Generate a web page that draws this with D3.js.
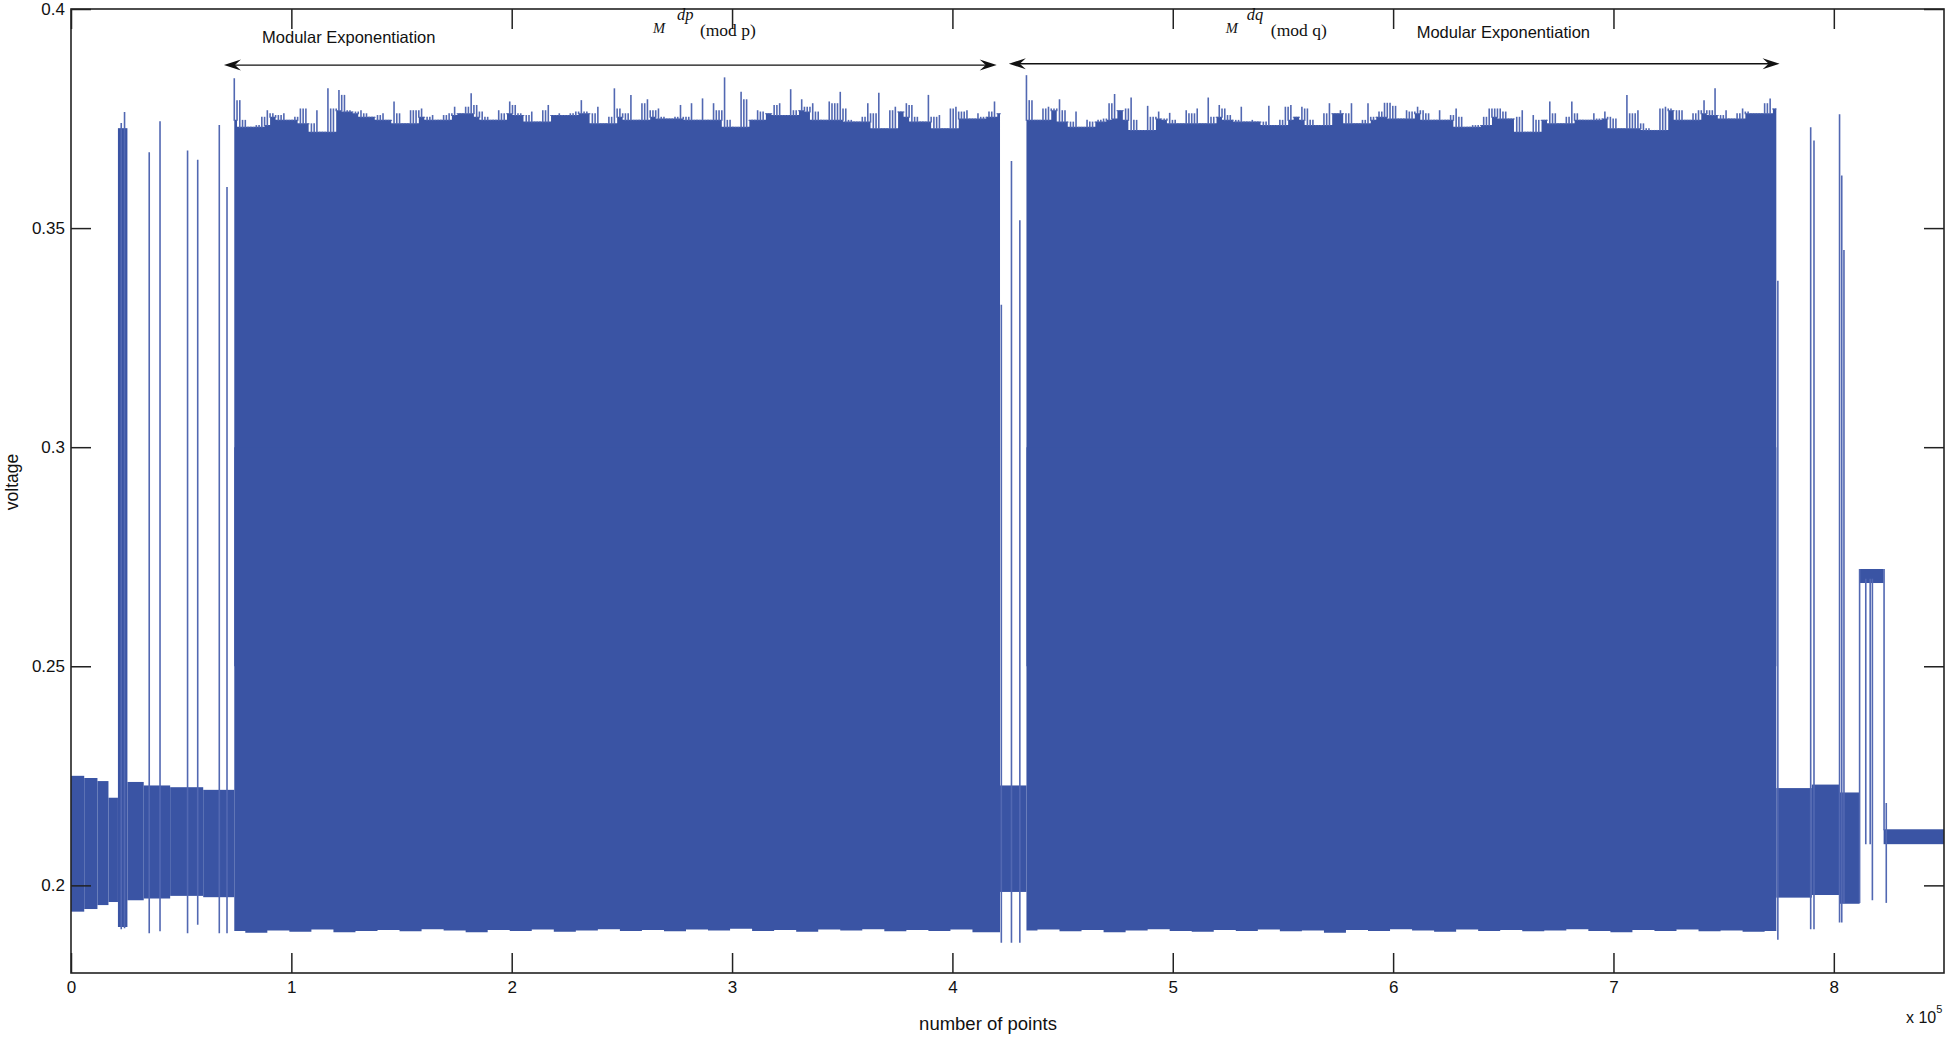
<!DOCTYPE html>
<html>
<head>
<meta charset="utf-8">
<script src="https://cdn.jsdelivr.net/npm/d3@7"></script>
<style>
	body { margin: 0; background: #fff; }
	text { font-family: "Liberation Sans", Arial, sans-serif; fill: #111; }
	.serif { font-family: "Liberation Serif", "Times New Roman", serif; }
</style>
</head>
<body>
<svg id="chart" width="1949" height="1038"></svg>
<script>
// x is in units of 1e5 points, y in volts
const xTicks = [0, 1, 2, 3, 4, 5, 6, 7, 8]
const yTicks = [0.2, 0.25, 0.3, 0.35, 0.4]

// quiet stretches of the trace: [start, end, top, bottom]
const bands = [
	[0, 0.06, 0.2250, 0.1940],
	[0.06, 0.12, 0.2245, 0.1946],
	[0.12, 0.17, 0.2238, 0.1955],
	[0.17, 0.213, 0.2200, 0.1962],
	[0.213, 0.256, 0.3728, 0.1905],
	[0.256, 0.33, 0.2236, 0.1966],
	[0.33, 0.45, 0.2228, 0.1970],
	[0.45, 0.6, 0.2224, 0.1976],
	[0.6, 0.741, 0.2218, 0.1973],
	[4.216, 4.336, 0.2228, 0.1985],
	[7.739, 7.9, 0.2222, 0.1972],
	[7.9, 8.026, 0.2230, 0.1978],
	[8.026, 8.117, 0.2212, 0.1958],
	[8.117, 8.226, 0.2722, 0.2690],
	[8.226, 8.5, 0.2128, 0.2094],
]

// the two exponentiation bursts, upper envelope sampled every 2500 points
const sampleStep = 0.025
const bottomStep = 0.1
const block1Start = 0.741, block1End = 4.216
const block2Start = 4.336, block2End = 7.739

const block1Top = [
	0.3842, 0.3792, 0.3747, 0.3731, 0.3735, 0.3754, 0.3769, 0.3762, 0.3758, 0.3762,
	0.3747, 0.3754, 0.3773, 0.3773, 0.3739, 0.3769, 0.3720, 0.3819, 0.3773, 0.3815,
	0.3804, 0.3769, 0.3766, 0.3769, 0.3762, 0.3754, 0.3758, 0.3762, 0.3747, 0.3789,
	0.3762, 0.3739, 0.3769, 0.3769, 0.3773, 0.3754, 0.3758, 0.3747, 0.3758, 0.3762,
	0.3777, 0.3762, 0.3777, 0.3808, 0.3781, 0.3766, 0.3754, 0.3747, 0.3769, 0.3762,
	0.3789, 0.3781, 0.3762, 0.3758, 0.3766, 0.3743, 0.3769, 0.3781, 0.3758, 0.3762,
	0.3758, 0.3762, 0.3766, 0.3792, 0.3766, 0.3762, 0.3777, 0.3739, 0.3754, 0.3819,
	0.3773, 0.3762, 0.3804, 0.3747, 0.3785, 0.3794, 0.3769, 0.3773, 0.3754, 0.3750,
	0.3754, 0.3781, 0.3754, 0.3785, 0.3747, 0.3796, 0.3747, 0.3785, 0.3769, 0.3844,
	0.3747, 0.3731, 0.3811, 0.3794, 0.3747, 0.3769, 0.3766, 0.3762, 0.3781, 0.3785,
	0.3758, 0.3817, 0.3769, 0.3794, 0.3777, 0.3785, 0.3766, 0.3747, 0.3789, 0.3785,
	0.3811, 0.3773, 0.3747, 0.3743, 0.3754, 0.3785, 0.3762, 0.3809, 0.3728, 0.3769,
	0.3777, 0.3766, 0.3785, 0.3781, 0.3754, 0.3743, 0.3804, 0.3754, 0.3758, 0.3728,
	0.3773, 0.3777, 0.3766, 0.3769, 0.3750, 0.3762, 0.3754, 0.3766, 0.3789, 0.3762,
]
const block1Bottom = [
	0.1896, 0.1892, 0.1897, 0.1894, 0.1899, 0.1893, 0.1896, 0.1898, 0.1895, 0.1900,
	0.1897, 0.1893, 0.1898, 0.1896, 0.1899, 0.1894, 0.1897, 0.1900, 0.1896, 0.1898,
	0.1895, 0.1899, 0.1897, 0.1901, 0.1896, 0.1898, 0.1894, 0.1899, 0.1897, 0.1900,
	0.1895, 0.1898, 0.1896, 0.1899, 0.1893,
]
const block2Top = [
	0.3849, 0.3792, 0.3747, 0.3773, 0.3777, 0.3773, 0.3794, 0.3769, 0.3743, 0.3766,
	0.3731, 0.3747, 0.3743, 0.3747, 0.3750, 0.3785, 0.3806, 0.3769, 0.3773, 0.3798,
	0.3747, 0.3724, 0.3779, 0.3754, 0.3766, 0.3750, 0.3763, 0.3747, 0.3739, 0.3769,
	0.3762, 0.3773, 0.3739, 0.3798, 0.3754, 0.3781, 0.3773, 0.3758, 0.3747, 0.3777,
	0.3743, 0.3747, 0.3743, 0.3743, 0.3779, 0.3735, 0.3747, 0.3777, 0.3781, 0.3754,
	0.3777, 0.3773, 0.3747, 0.3735, 0.3762, 0.3785, 0.3762, 0.3769, 0.3762, 0.3785,
	0.3739, 0.3747, 0.3785, 0.3754, 0.3766, 0.3786, 0.3786, 0.3779, 0.3750, 0.3769,
	0.3766, 0.3777, 0.3769, 0.3762, 0.3747, 0.3769, 0.3747, 0.3758, 0.3773, 0.3754,
	0.3731, 0.3735, 0.3735, 0.3754, 0.3773, 0.3773, 0.3773, 0.3766, 0.3750, 0.3754,
	0.3769, 0.3720, 0.3758, 0.3747, 0.3747, 0.3789, 0.3762, 0.3739, 0.3754, 0.3789,
	0.3762, 0.3747, 0.3747, 0.3762, 0.3750, 0.3766, 0.3754, 0.3750, 0.3728, 0.3804,
	0.3762, 0.3769, 0.3739, 0.3728, 0.3724, 0.3773, 0.3777, 0.3773, 0.3769, 0.3769,
	0.3747, 0.3762, 0.3769, 0.3792, 0.3769, 0.3819, 0.3758, 0.3769, 0.3750, 0.3762,
	0.3773, 0.3766, 0.3762, 0.3762, 0.3785, 0.3796, 0.3773,
]
const block2Bottom = [
	0.1897, 0.1899, 0.1895, 0.1898, 0.1893, 0.1897, 0.1900, 0.1896, 0.1894, 0.1898,
	0.1896, 0.1899, 0.1895, 0.1897, 0.1892, 0.1898, 0.1896, 0.1900, 0.1897, 0.1894,
	0.1899, 0.1896, 0.1898, 0.1895, 0.1897, 0.1900, 0.1896, 0.1893, 0.1898, 0.1896,
	0.1899, 0.1895, 0.1897, 0.1894, 0.1896,
]

// isolated pulses: [x, top, bottom]
const spikes = [
	[0.228, 0.3740, 0.1900], [0.243, 0.3765, 0.1902],
	[0.355, 0.3673, 0.1891], [0.404, 0.3744, 0.1895],
	[0.529, 0.3677, 0.1891], [0.575, 0.3656, 0.1910],
	[0.673, 0.3735, 0.1891], [0.708, 0.3594, 0.1891],
	[4.222, 0.3325, 0.1869], [4.268, 0.3653, 0.1869], [4.306, 0.3518, 0.1869],
	[7.746, 0.3380, 0.1876], [7.895, 0.3730, 0.1900], [7.910, 0.3700, 0.1900],
	[8.026, 0.3760, 0.1915], [8.036, 0.3620, 0.1915], [8.046, 0.3450, 0.1960],
	[8.117, 0.2722, 0.1960], [8.145, 0.2700, 0.2094], [8.165, 0.2700, 0.2094],
	[8.175, 0.2700, 0.1966], [8.228, 0.2722, 0.2126], [8.238, 0.2188, 0.1960],
]

// double-headed arrows: [from, to, level]
const arrows = [
	[0.694, 4.201, 0.3872],
	[4.256, 7.754, 0.3875],
]

const traceColour = "#3a54a4"
const spikeColour = "#5268b2"

const svg = d3.select("#chart")
const xs = d3.scaleLinear().domain([0, 8.5]).range([71, 1944])
const ys = d3.scaleLinear().domain([0.18, 0.4]).range([973, 9])

svg.append("defs").append("clipPath")
	.attr("id", "plotClip")
	.append("rect")
	.attr("x", xs(0)).attr("y", ys(0.4))
	.attr("width", xs(8.5) - xs(0)).attr("height", ys(0.18) - ys(0.4))

const plot = svg.append("g").attr("clip-path", "url(#plotClip)")

// Quiet bands
plot.selectAll("rect.band")
	.data(bands)
	.join("rect")
	.attr("class", "band")
	.attr("x", d => xs(d[0]))
	.attr("width", d => xs(d[1]) - xs(d[0]))
	.attr("y", d => ys(d[2]))
	.attr("height", d => ys(d[3]) - ys(d[2]))
	.attr("fill", traceColour)

function drawBlock(start, end, tops, bottoms) {
	// solid body reaches the lowest envelope value nearby, peaks drawn as thin lines
	let pts = tops.map((v, i) => ({
		x: start + i * sampleStep,
		v: v,
		body: d3.min(tops.slice(Math.max(0, i - 2), i + 3)),
	}))
	let edges = [{ x: start, body: pts[0].body }, ...pts, { x: end, body: pts[pts.length - 1].body }]

	plot.append("path")
		.datum(edges)
		.attr("fill", traceColour)
		.attr("d", d3.area()
			.curve(d3.curveStep)
			.x(d => xs(d.x))
			.y0(ys(0.25))
			.y1(d => ys(d.body)))

	let bpts = bottoms.map((v, i) => ({ x: start + i * bottomStep, v: v }))
	bpts = [{ x: start, v: bottoms[0] }, ...bpts, { x: end, v: bottoms[bottoms.length - 1] }]
	plot.append("path")
		.datum(bpts)
		.attr("fill", traceColour)
		.attr("d", d3.area()
			.curve(d3.curveStep)
			.x(d => xs(d.x))
			.y0(ys(0.3))
			.y1(d => ys(d.v)))

	// in-between peaks reach the lower of the two neighbouring samples
	let mids = pts.slice(1).map((p, i) => ({
		x: (p.x + pts[i].x) / 2,
		v: Math.min(p.v, pts[i].v),
		body: Math.max(p.body, pts[i].body),
	}))

	plot.append("g")
		.selectAll("line")
		.data(pts.concat(mids))
		.join("line")
		.attr("x1", d => xs(d.x)).attr("x2", d => xs(d.x))
		.attr("y1", d => ys(d.body) + 1).attr("y2", d => ys(d.v))
		.attr("stroke", spikeColour)
		.attr("stroke-width", 1.6)
}

drawBlock(block1Start, block1End, block1Top, block1Bottom)
drawBlock(block2Start, block2End, block2Top, block2Bottom)

plot.append("g")
	.selectAll("line")
	.data(spikes)
	.join("line")
	.attr("x1", d => xs(d[0])).attr("x2", d => xs(d[0]))
	.attr("y1", d => ys(d[1])).attr("y2", d => ys(d[2]))
	.attr("stroke", spikeColour)
	.attr("stroke-width", 1.6)

// Axes box and inward ticks on all four sides
const fmt = d => String(d)
function styleAxis(g) {
	g.select(".domain").remove()
	g.selectAll(".tick line").attr("stroke", "#222").attr("stroke-width", 1.5)
	g.selectAll(".tick text").attr("font-size", 17).attr("fill", "#111")
}
svg.append("g")
	.attr("transform", `translate(0,${ys(0.18)})`)
	.call(d3.axisBottom(xs).tickValues(xTicks).tickFormat(fmt).tickSizeInner(-20).tickSizeOuter(0).tickPadding(8))
	.call(styleAxis)
svg.append("g")
	.attr("transform", `translate(0,${ys(0.4)})`)
	.call(d3.axisTop(xs).tickValues(xTicks).tickFormat("").tickSizeInner(-20).tickSizeOuter(0))
	.call(styleAxis)
svg.append("g")
	.attr("transform", `translate(${xs(0)},0)`)
	.call(d3.axisLeft(ys).tickValues(yTicks).tickFormat(fmt).tickSizeInner(-20).tickSizeOuter(0).tickPadding(6))
	.call(styleAxis)
svg.append("g")
	.attr("transform", `translate(${xs(8.5)},0)`)
	.call(d3.axisRight(ys).tickValues(yTicks).tickFormat("").tickSizeInner(-20).tickSizeOuter(0))
	.call(styleAxis)

svg.append("rect")
	.attr("x", xs(0)).attr("y", ys(0.4))
	.attr("width", xs(8.5) - xs(0)).attr("height", ys(0.18) - ys(0.4))
	.attr("fill", "none")
	.attr("stroke", "#222")
	.attr("stroke-width", 1.6)

// Axis labels
svg.append("text")
	.attr("x", 988).attr("y", 1030)
	.attr("text-anchor", "middle")
	.attr("font-size", 18.5)
	.text("number of points")
svg.append("text")
	.attr("transform", "translate(18,482) rotate(-90)")
	.attr("text-anchor", "middle")
	.attr("font-size", 17.5)
	.text("voltage")
const expo = svg.append("text")
	.attr("x", 1906).attr("y", 1023)
	.attr("font-size", 16)
expo.append("tspan").text("x 10")
expo.append("tspan").attr("dy", -10).attr("font-size", 11).text("5")

// Annotations
function arrowHead(x, y, dir) {
	let L = 17, W = 5.5, n = 11
	return `M${x},${y} L${x - dir * L},${y - W} L${x - dir * n},${y} L${x - dir * L},${y + W} Z`
}
const ann = svg.append("g")
arrows.forEach(a => {
	let x0 = xs(a[0]), x1 = xs(a[1]), y = ys(a[2])
	ann.append("line")
		.attr("x1", x0 + 8).attr("x2", x1 - 8)
		.attr("y1", y).attr("y2", y)
		.attr("stroke", "#111").attr("stroke-width", 1.4)
	ann.append("path").attr("d", arrowHead(x0, y, -1)).attr("fill", "#111")
	ann.append("path").attr("d", arrowHead(x1, y, 1)).attr("fill", "#111")
})

ann.append("text")
	.attr("x", xs(0.867)).attr("y", ys(0.3922))
	.attr("font-size", 16.5)
	.text("Modular Exponentiation")
ann.append("text")
	.attr("x", xs(6.107)).attr("y", ys(0.3934))
	.attr("font-size", 16.5)
	.text("Modular Exponentiation")

const modLabels = [
	[2.641, 2.750, 2.854, "dp", "(mod p)"],
	[5.240, 5.336, 5.445, "dq", "(mod q)"],
]
modLabels.forEach(m => {
	ann.append("text").attr("class", "serif")
		.attr("x", xs(m[0])).attr("y", ys(0.3946))
		.attr("font-size", 14.5).attr("font-style", "italic")
		.text("M")
	ann.append("text").attr("class", "serif")
		.attr("x", xs(m[1])).attr("y", ys(0.3976))
		.attr("font-size", 16.5).attr("font-style", "italic")
		.text(m[3])
	ann.append("text").attr("class", "serif")
		.attr("x", xs(m[2])).attr("y", ys(0.3938))
		.attr("font-size", 17.5)
		.text(m[4])
})
</script>
</body>
</html>
